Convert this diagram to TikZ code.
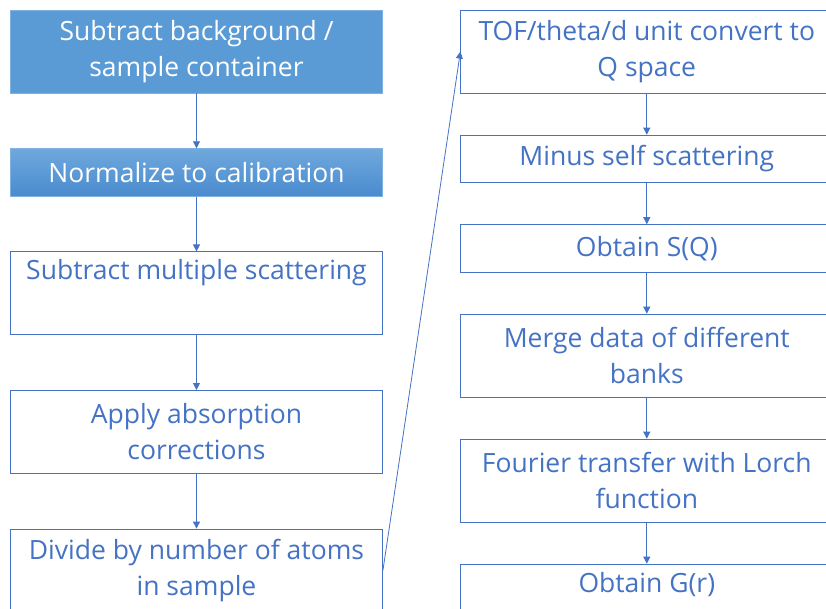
\documentclass[tikz,border=0pt]{standalone}
\usepackage{fontspec}
\setmainfont{Open Sans}
\usetikzlibrary{arrows.meta,positioning}
\definecolor{flowblue}{HTML}{4472C4}
\definecolor{fillblue}{HTML}{5B9BD5}
\definecolor{fillblueup}{HTML}{6FA8DC}
\definecolor{fillbluedown}{HTML}{4A8BCF}
\definecolor{edgeblue}{HTML}{7FB2E0}
\def\fignodewidth{372pt}
\def\fignodeheight{83pt}
\def\fignodesmallheight{47.5pt}
\def\figleftsep{54.8pt}
\def\figrightsep{41.2pt}
\def\figcolsep{77.5pt}

\begin{document}
\begin{tikzpicture}[
  x=1pt,y=1pt,
  font=\fontsize{26.5}{36}\selectfont,
  box/.style={draw=flowblue,line width=0.8pt,text=flowblue,minimum width=\fignodewidth,minimum height=\fignodeheight,align=center,inner sep=0pt},
  box2/.style={box,minimum height=\fignodesmallheight},
  filled/.style={draw=edgeblue,fill=fillblue,text=white},
  shaded/.style={draw=edgeblue,top color=fillblueup,bottom color=fillbluedown,text=white},
  flow/.style={draw=flowblue,line width=0.8pt,-{Triangle[length=7pt,width=7pt]}},
]
\useasboundingbox (0,0) rectangle (826,608);
\clip (0,0) rectangle (826,608);

%%%%%%%%%%%%%%%
% Left Part
%%%%%%%%%%%%%%%
\node (b1) [box,filled,anchor=north] at (196.5,598.3) {Subtract background /\\sample container};
\node (b2) [box2,shaded,below=\figleftsep of b1] {Normalize to calibration};
\node (b3) [box,below=\figleftsep of b2] {Subtract multiple scattering\\\strut};
\node (b4) [box,below=\figleftsep of b3] {Apply absorption\\corrections};
\node (b5) [box,below=\figleftsep of b4] {Divide by number of atoms\\in sample};

%%%%%%%%%%%%%%%
% Right Part
%%%%%%%%%%%%%%%
\node (r1) [box,right=\figcolsep of b1.north east,anchor=north west] {TOF/theta/d unit convert to\\Q space};
\node (r2) [box2,below=\figrightsep of r1] {Minus self scattering};
\node (r3) [box2,below=\figrightsep of r2] {Obtain S(Q)};
\node (r4) [box,below=\figrightsep of r3] {Merge data of different\\banks};
\node (r5) [box,below=\figrightsep of r4] {Fourier transfer with Lorch\\function};
\node (r6) [box,below=\figrightsep of r5] {Obtain G(r)\\\strut};

%%%%%%%%%%%%%%%
% Connectors
%%%%%%%%%%%%%%%
\draw[flow] (b1) -- (b2);
\draw[flow] (b2) -- (b3);
\draw[flow] (b3) -- (b4);
\draw[flow] (b4) -- (b5);
\draw[flow] (b5.east) -- (r1.west); % jump to the second column
\draw[flow] (r1) -- (r2);
\draw[flow] (r2) -- (r3);
\draw[flow] (r3) -- (r4);
\draw[flow] (r4) -- (r5);
\draw[flow] (r5) -- (r6);

\end{tikzpicture}
\end{document}
